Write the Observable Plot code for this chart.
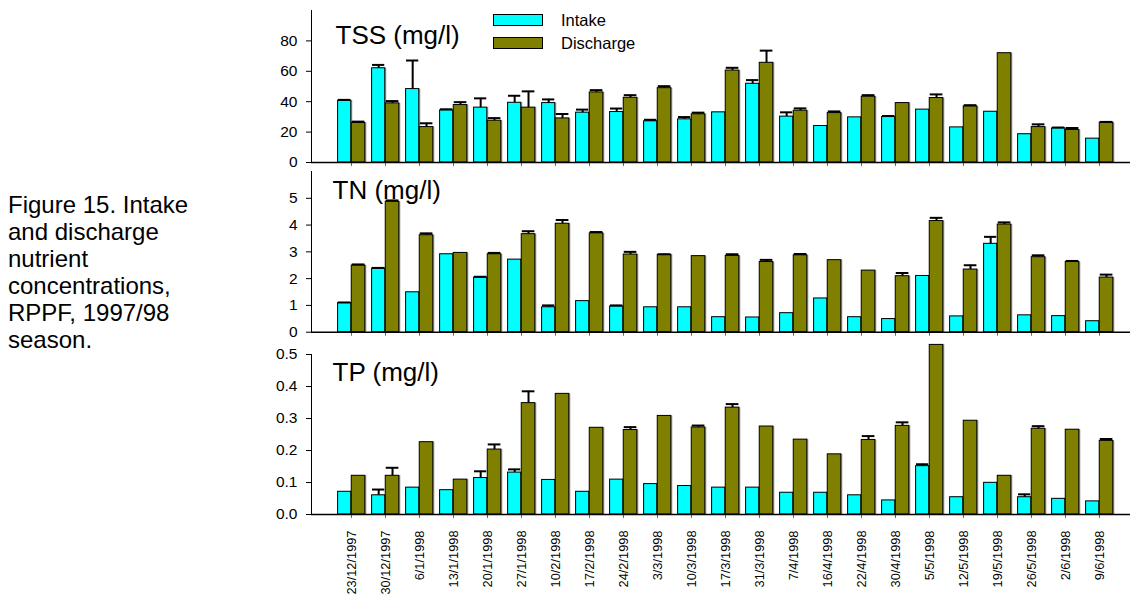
<!DOCTYPE html>
<html>
<head>
<meta charset="utf-8">
<script src="https://cdn.jsdelivr.net/npm/d3@7"></script>
<script src="https://cdn.jsdelivr.net/npm/@observablehq/plot@0.6"></script>
<style>
  html, body { margin: 0; padding: 0; background: #fff; }
  body { width: 1135px; height: 600px; position: relative; overflow: hidden; font-family: "Liberation Sans", Arial, sans-serif; }
  .panel { position: absolute; left: 0; }
  .panel svg { overflow: visible; }
  .caption { position: absolute; left: 8px; top: 191px; font-size: 24px; line-height: 27px; color: #000; }
  .sw { position: absolute; border: 1px solid #000; box-sizing: border-box; }
  .lg { position: absolute; font-size: 16.5px; line-height: 1; color: #000; }
</style>
</head>
<body>
<div class="caption">Figure 15. Intake<br>and discharge<br>nutrient<br>concentrations,<br>RPPF, 1997/98<br>season.</div>
<div class="sw" style="left:493px;top:14px;width:50px;height:12px;background:#00ffff"></div>
<div class="sw" style="left:493px;top:37px;width:50px;height:12px;background:#808000"></div>
<div class="lg" style="left:561px;top:12px;">Intake</div>
<div class="lg" style="left:561px;top:35px;">Discharge</div>
<div id="p3" class="panel" style="top:340px"></div>
<div id="p2" class="panel" style="top:165px"></div>
<div id="p1" class="panel" style="top:0px"></div>
<script>
const dates = ["23/12/1997","30/12/1997","6/1/1998","13/1/1998","20/1/1998","27/1/1998","10/2/1998","17/2/1998","24/2/1998","3/3/1998","10/3/1998","17/3/1998","31/3/1998","7/4/1998","16/4/1998","22/4/1998","30/4/1998","5/5/1998","12/5/1998","19/5/1998","26/5/1998","2/6/1998","9/6/1998"];
const series = ["Intake", "Discharge"];

const tssIntake = [40.7,62.0,48.3,34.3,36.1,39.3,39.1,32.8,33.2,27.1,28.4,33.0,51.8,30.2,24.0,29.7,29.9,34.8,23.1,33.4,18.6,22.5,15.7];
const tssIntakeErr = [0.5,2.2,18.8,0.7,6.1,4.6,2.4,2.0,2.3,1.0,1.5,0,2.4,2.8,0,0,0.7,0,0,0,0,0.5,0];
const tssDischarge = [26.0,38.9,23.3,37.8,27.5,36.1,29.0,46.1,42.6,48.9,31.7,60.5,65.6,34.1,32.5,43.3,39.1,42.4,36.9,71.9,23.3,21.4,26.2];
const tssDischargeErr = [0.9,1.5,2.5,1.9,1.7,10.7,2.9,1.5,1.7,1.3,1.1,1.8,8.0,1.5,1.1,1.0,0,2.4,0.8,0,1.8,1.3,0.5];

const tnIntake = [1.09,2.38,1.49,2.91,2.04,2.71,0.93,1.16,0.96,0.93,0.93,0.56,0.55,0.71,1.26,0.56,0.49,2.10,0.59,3.30,0.63,0.60,0.41];
const tnIntakeErr = [0.02,0.02,0,0,0.03,0,0.07,0,0.04,0,0,0,0,0,0,0,0,0,0,0.26,0,0,0];
const tnDischarge = [2.49,4.87,3.62,2.96,2.91,3.66,4.05,3.69,2.90,2.89,2.84,2.85,2.62,2.87,2.69,2.30,2.09,4.15,2.34,4.02,2.80,2.62,2.04];
const tnDischargeErr = [0.04,0.05,0.07,0,0.05,0.11,0.14,0.05,0.1,0.02,0,0.06,0.08,0.05,0,0,0.12,0.12,0.16,0.08,0.07,0.04,0.11];

const tpIntake = [0.071,0.060,0.084,0.076,0.114,0.131,0.108,0.071,0.109,0.095,0.089,0.084,0.084,0.068,0.068,0.060,0.044,0.151,0.054,0.099,0.054,0.049,0.041];
const tpIntakeErr = [0,0.018,0,0,0.021,0.010,0,0,0,0,0,0,0,0,0,0,0,0.006,0,0,0.009,0,0];
const tpDischarge = [0.121,0.121,0.226,0.109,0.203,0.348,0.377,0.271,0.264,0.308,0.272,0.334,0.275,0.234,0.188,0.233,0.277,0.53,0.293,0.121,0.268,0.265,0.230];
const tpDischargeErr = [0,0.025,0,0,0.016,0.037,0,0,0.009,0,0.006,0.011,0,0,0,0.012,0.011,0,0,0,0.008,0,0.006];

const tssTicks = [0,20,40,60,80];
const tnTicks = [0,1,2,3,4,5];
const tpTicks = [0,0.1,0.2,0.3,0.4,0.5];

const colors = {Intake: "#00ffff", Discharge: "#808000"};

function rows(intake, intakeErr, discharge, dischargeErr) {
  const out = [];
  dates.forEach((d, i) => {
    out.push({date: d, series: "Intake", value: intake[i], err: intakeErr[i]});
    out.push({date: d, series: "Discharge", value: discharge[i], err: dischargeErr[i]});
  });
  return out;
}

const W = 1135, ML = 311, MR = 5;
const xRange = [328.05, 1121.3];
const half = (xRange[1] - xRange[0]) / dates.length / 2; // ~17.25

function panel({data, domain, ticks, fmt, title, height, mt, mb, labels, titleDx, titleDy}) {
  const I = data.filter(d => d.series === "Intake");
  const D = data.filter(d => d.series === "Discharge");
  const iIn = {insetLeft: 3.6, insetRight: half};
  const dIn = {insetLeft: half, insetRight: 3.2};
  const eI = I.filter(d => d.err > 0), eD = D.filter(d => d.err > 0);
  return Plot.plot({
    width: W, height, marginLeft: ML, marginRight: MR, marginTop: mt, marginBottom: mb,
    style: {fontFamily: "'Liberation Sans', Arial, sans-serif", background: "transparent", color: "#000", overflow: "visible"},
    x: {type: "band", domain: dates, range: xRange, padding: 0, label: null},
    y: {domain, range: [height - mb, mt], label: null},
    marks: [
      Plot.barY(I, {x: "date", y: "value", fill: "#9a9a9a", dx: 1.5, ...iIn}),
      Plot.barY(D, {x: "date", y: "value", fill: "#9a9a9a", dx: 1.5, ...dIn}),
      Plot.barY(I, {x: "date", y: "value", fill: colors.Intake, stroke: "#000", strokeWidth: 1, ...iIn}),
      Plot.barY(D, {x: "date", y: "value", fill: colors.Discharge, stroke: "#000", strokeWidth: 1, ...dIn}),
      Plot.ruleX(eI, {x: "date", y1: "value", y2: d => d.value + d.err, dx: -(half - 3.6) / 2, stroke: "#000", strokeWidth: 2}),
      Plot.ruleX(eD, {x: "date", y1: "value", y2: d => d.value + d.err, dx: (half - 3.2) / 2, stroke: "#000", strokeWidth: 2}),
      Plot.tickY(eI, {x: "date", y: d => d.value + d.err, stroke: "#000", strokeWidth: 2, insetLeft: 4, insetRight: half + 0.5}),
      Plot.tickY(eD, {x: "date", y: d => d.value + d.err, stroke: "#000", strokeWidth: 2, insetLeft: half + 0.5, insetRight: 3.6}),
      Plot.axisY({ticks, tickSize: 5, tickPadding: 9, fontSize: 15.5, tickFormat: fmt, label: null}),
      Plot.frame({anchor: "left", stroke: "#000", strokeWidth: 1}),
      labels
        ? Plot.axisX({tickSize: 4, tickRotate: -90, tickPadding: 12, fontSize: 12.8, stroke: "#666", fill: "#000", label: null})
        : Plot.axisX({tickSize: 4, tickFormat: () => "", stroke: "#666", label: null}),
      Plot.ruleY([0], {stroke: "#000", strokeWidth: 1.6}),
      Plot.text([title], {frameAnchor: "top-left", text: d => d, dx: titleDx, dy: titleDy, lineAnchor: "bottom", textAnchor: "start", fontSize: 26, fill: "#000"})
    ]
  });
}

document.getElementById("p1").appendChild(panel({
  data: rows(tssIntake, tssIntakeErr, tssDischarge, tssDischargeErr),
  domain: [0, 100], ticks: tssTicks, fmt: d => d3.format("d")(d),
  title: "TSS (mg/l)", height: 170, mt: 10, mb: 8, labels: false, titleDx: 24, titleDy: 33.5
}));
document.getElementById("p2").appendChild(panel({
  data: rows(tnIntake, tnIntakeErr, tnDischarge, tnDischargeErr),
  domain: [0, 6], ticks: tnTicks, fmt: d => d3.format("d")(d),
  title: "TN (mg/l)", height: 172, mt: 6, mb: 5.3, labels: false, titleDx: 21, titleDy: 27
}));
document.getElementById("p3").appendChild(panel({
  data: rows(tpIntake, tpIntakeErr, tpDischarge, tpDischargeErr),
  domain: [0, 0.5], ticks: tpTicks, fmt: d3.format(".1f"),
  title: "TP (mg/l)", height: 260, mt: 14, mb: 86, labels: true, titleDx: 21, titleDy: 26
}));
</script>
</body>
</html>
